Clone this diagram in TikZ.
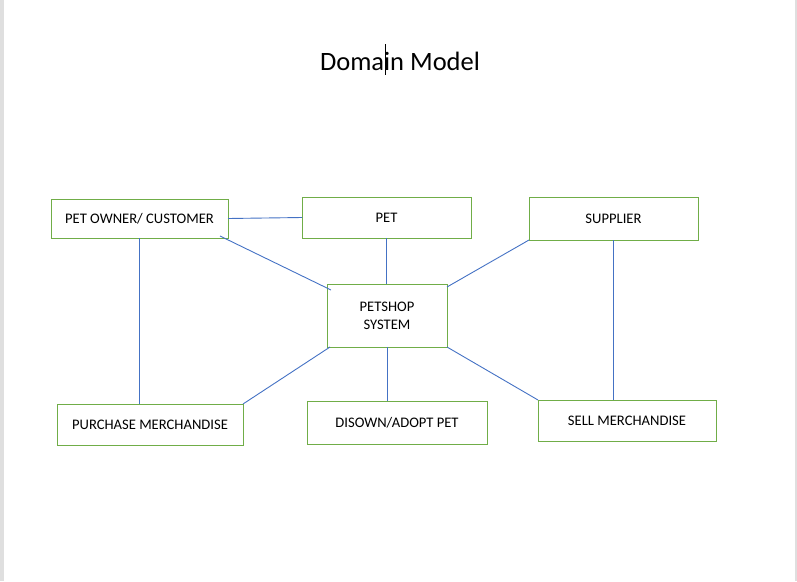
\documentclass[tikz,border=0pt]{standalone}
\usepackage{fontspec}
\setmainfont{Carlito}
\usepackage{xcolor}
\usetikzlibrary{positioning, calc}
\definecolor{boxgreen}{RGB}{112,173,71}
\definecolor{lineblue}{RGB}{68,114,196}

\begin{document}
\begin{tikzpicture}[x=1pt, y=-1pt,
    box/.style = {draw=boxgreen, line width=1pt, inner sep=0pt, outer sep=0pt, font=\fontsize{14.6}{18}\selectfont, align=center},
    link/.style = {draw=lineblue, line width=0.9pt}]
                    \useasboundingbox (0,0) rectangle (797,581);
                    % page edges
                    \fill[gray!25] (0,0) rectangle (4,581);
                    \fill[gray!25] (795,0) rectangle (797,581);

                    % Title
                    \node[font=\fontsize{26.5}{30}\selectfont] (title) at (400,61) {Domain Model};
                    \draw[black, line width=0.6pt] (385.5,44) -- (385.5,75);

                    % Nodes
                    \node[box, minimum width=177pt, minimum height=39pt] (owner) at (139.5,218.5) {PET OWNER/ CUSTOMER};
                    \node[box, minimum width=169pt, minimum height=41pt] (pet) at (386.5,217.5) {PET};
                    \node[box, minimum width=169pt, minimum height=43pt] (supplier) at (613.5,218.5) {SUPPLIER};
                    \node[box, minimum width=120pt, minimum height=63pt] (petshop) at (387,315.5) {PETSHOP\\SYSTEM};
                    \node[box, minimum width=186pt, minimum height=41pt] (purchase) at (150,424.5) {PURCHASE MERCHANDISE};
                    \node[box, minimum width=180pt, minimum height=43pt] (disown) at (397,422.5) {DISOWN/ADOPT PET};
                    \node[box, minimum width=178pt, minimum height=41pt] (sell) at (627,420.5) {SELL MERCHANDISE};

                    % Lines
                    \draw[link] (owner.east) -- (pet.west);
                    \draw[link] ([xshift=-8pt, yshift=2pt]owner.south east) -- ([xshift=4pt, yshift=-6pt]petshop.north west);
                    \draw[link] (pet.south) -- (pet.south |- petshop.north);
                    \draw[link] (supplier.south west) -- ([yshift=-3pt]petshop.north east);
                    \draw[link] (owner.south) -- (owner.south |- purchase.north);
                    \draw[link] ([xshift=3pt]petshop.south west) -- (purchase.north east);
                    \draw[link] (petshop.south) -- (petshop.south |- disown.north);
                    \draw[link] (petshop.south east) -- (sell.north west);
                    \draw[link] (supplier.south) -- (supplier.south |- sell.north);
                \end{tikzpicture}
\end{document}
